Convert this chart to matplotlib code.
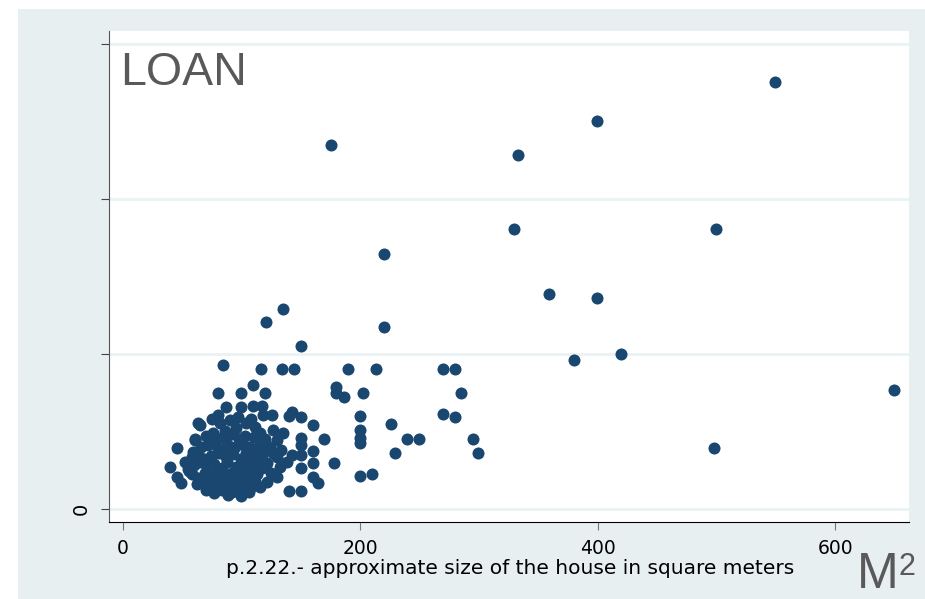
import matplotlib
matplotlib.use('Agg')
import matplotlib.pyplot as plt
from matplotlib.patches import Rectangle

plt.rcParams['font.family'] = ['Liberation Sans', 'DejaVu Sans']

# size of the house (m2) and loan amount
size_m2 = [549.4, 399.4, 175.3, 332.9, 329.5, 499.7, 219.9, 359, 399.4, 219.9,
           120.5, 134.8, 150, 419.6, 380, 649.7, 498, 84.3,
           116, 133.7, 144.4, 189.9, 212.9, 269.9, 279.2,
           109.8, 179.5, 179.5, 186.2, 202, 284.8, 79.8, 99.4, 119.7,
           86.5, 99.4, 109.8, 116.9,
           80.3, 97.2, 118.2, 125.3, 142.2, 140.1, 149.7,
           199.7, 269.9, 279.2, 225.8,
           63.5, 64.9, 74.7, 111.2, 159.8, 126.7, 135.1, 76.1,
           60.7, 150, 150, 169.6, 119.7, 129.5, 199.7, 199.7, 199.7, 239.6, 249.7, 294.7,
           45.3, 159.8, 112.7, 118.2, 59.2,
           142.2, 150, 129.5, 137.9, 229.5, 299.4,
           178, 159.8, 150, 121.1, 112.7,
           39.6, 55, 45.3, 48.9,
           129.5, 121.1, 115.4, 159.8, 164.6, 199.7, 210.1,
           140.1, 150, 101.4, 105.5, 102.8, 99.4, 88.7,
           82, 90, 95, 104, 108, 86,
           70, 78, 84, 92, 98, 103, 110, 115, 88,
           66, 72, 80, 86, 94, 100, 106, 112, 117, 124,
           58, 63, 68, 74, 81, 87, 93, 99, 104, 109, 114, 126, 133,
           60, 65, 71, 77, 83, 88, 95, 101, 107, 117, 125, 132,
           58, 63, 69, 75, 80, 86, 92, 97, 103, 110, 113,
           62, 67, 73, 79, 84, 90, 96, 102, 108, 111,
           70, 77, 83, 92, 96, 106, 88,
           56, 52, 61]
loan = [275.5, 250.3, 234.8, 228.4, 180.5, 180.5, 164.4, 138.6, 136, 117.2,
        120.5, 128.9, 105, 99.8, 95.9, 76.6, 39, 92.7,
        90, 90, 90, 90, 90, 90, 90,
        79.8, 78.7, 74.4, 71.8, 74.8, 74.8, 74.6, 74.6, 74.8,
        65.8, 65.8, 66.2, 66.2,
        60.4, 59.3, 60.4, 60.4, 62.5, 59.8, 59.3,
        59.8, 61, 59.3, 54.6,
        55.4, 53.9, 57.6, 52.8, 53.7, 50.7, 48.6, 48.6,
        44.7, 45.3, 41, 44.9, 44.9, 44.2, 50.7, 45.3, 42.5, 44.7, 44.7, 44.7,
        38.9, 37.3, 38.9, 35.7, 36.7,
        34.6, 34.6, 33.5, 30.2, 35.7, 35.7,
        29.6, 29.2, 26, 29.2, 24.9,
        27, 25.3, 20.5, 16.3,
        20.5, 17.3, 14.1, 20.2, 16.3, 21.2, 22.3,
        11.5, 11.5, 9.8, 26, 21.6, 8.1, 8.7,
        55, 57, 52, 55, 58, 50,
        47, 45, 46, 48, 45, 47, 46, 49, 42,
        40, 41, 39, 38, 40, 42, 40, 38, 41, 40,
        33, 35, 32, 34, 36, 33, 35, 32, 36, 33, 31, 36, 38,
        28, 30, 27, 29, 26, 30, 27, 29, 27, 26, 23, 27,
        22, 20, 23, 21, 24, 20, 23, 21, 24, 20, 22,
        16, 18, 15, 17, 14, 18, 15, 17, 14, 18,
        12, 10, 12, 11, 13, 11, 16,
        24, 30, 44]

x_ticks = [0, 200, 400, 600]
y_ticks = [0, 100, 200, 300]
y_tick_labels = ['0', '', '', '']

bg = '#e8eff1'
navy = '#1a476f'
wide = ['DejaVu Sans']

fig = plt.figure(figsize=(9.25, 5.99), dpi=100)
fig.patch.set_facecolor('white')
fig.patches.append(Rectangle((18 / 925, 0), 1, 1 - 9 / 599, transform=fig.transFigure,
                             facecolor=bg, edgecolor='none', zorder=-10))

ax = fig.add_axes([109 / 925, 77 / 599, 800 / 925, 491 / 599])
ax.set_facecolor('white')
ax.scatter(size_m2, loan, s=75, color=navy, linewidths=0, zorder=3)

ax.set_xlim(-11.8, 662)
ax.set_ylim(-8.7, 308.5)
ax.set_xticks(x_ticks)
ax.set_yticks(y_ticks)
ax.set_yticklabels(y_tick_labels, rotation=90, va='center', family=wide)
for lab in ax.get_xticklabels():
    lab.set_family(wide)
ax.yaxis.grid(True, color='#eaf2f3', linewidth=2, zorder=0)
ax.set_axisbelow(True)

for s in ['top', 'right']:
    ax.spines[s].set_visible(False)
ax.spines['left'].set_color('#555555')
ax.spines['bottom'].set_color('black')
ax.tick_params(axis='x', length=6, color='#777777', labelsize=13.5, pad=6)
ax.tick_params(axis='y', length=6, color='#444444', labelsize=14, pad=7)

fig.text(510 / 925, 1 - 569 / 599, 'p.2.22.- approximate size of the house in square meters',
         ha='center', va='center', fontsize=14.5, color='black', family=wide)
fig.text(120 / 925, 1 - 85 / 599, 'LOAN', ha='left', va='baseline', fontsize=33.5, color='#595959')
fig.text(857 / 925, 1 - 588 / 599, 'M', ha='left', va='baseline', fontsize=36, color='#595959')
fig.text(898 / 925, 1 - 575 / 599, '2', ha='left', va='baseline', fontsize=22, color='#595959')

fig.savefig('out.png', dpi=100)
